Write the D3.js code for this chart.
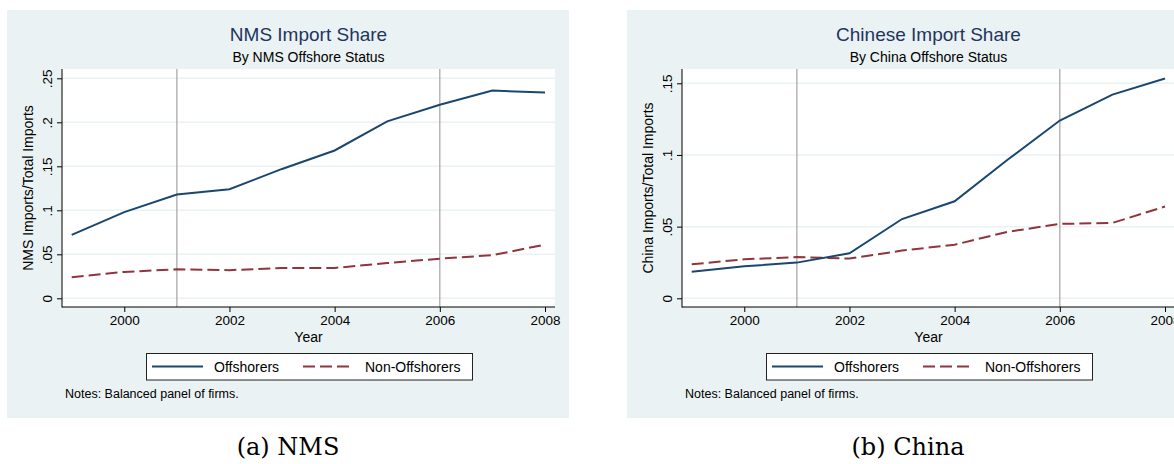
<!DOCTYPE html>
<html>
<head>
<meta charset="utf-8">
<script src="https://cdn.jsdelivr.net/npm/d3@7/dist/d3.min.js"></script>
<style>
  html, body { margin: 0; padding: 0; background: #ffffff; }
  svg { display: block; }
  text { font-family: "Liberation Sans", Arial, Helvetica, sans-serif; }
</style>
</head>
<body>
<svg id="chart" width="1174" height="464"></svg>
<script>
// ---------------- DATA ----------------
const years = [1999, 2000, 2001, 2002, 2003, 2004, 2005, 2006, 2007, 2008];

const nmsOffshorers    = [0.072, 0.098, 0.118, 0.124, 0.147, 0.168, 0.201, 0.220, 0.236, 0.234];
const nmsNonOffshorers = [0.024, 0.030, 0.033, 0.032, 0.0345, 0.0345, 0.040, 0.045, 0.049, 0.061];

const chinaOffshorers    = [0.0186, 0.0223, 0.0249, 0.0314, 0.0553, 0.0677, 0.0965, 0.124, 0.1421, 0.1533];
const chinaNonOffshorers = [0.0237, 0.0272, 0.0288, 0.0277, 0.0333, 0.0374, 0.0463, 0.0519, 0.0526, 0.064];

const xTickValues = [2000, 2002, 2004, 2006, 2008];
const xTickLabels = ["2000", "2002", "2004", "2006", "2008"];
const refLineYears = [2001, 2006];

const nmsYTickValues = [0, 0.05, 0.1, 0.15, 0.2, 0.25];
const nmsYTickLabels = ["0", ".05", ".1", ".15", ".2", ".25"];
const chinaYTickValues = [0, 0.05, 0.1, 0.15];
const chinaYTickLabels = ["0", ".05", ".1", ".15"];

const seriesNames = ["Offshorers", "Non-Offshorers"];

const panels = [
  {
    title: "NMS Import Share",
    subtitle: "By NMS Offshore Status",
    yTitle: "NMS Imports/Total Imports",
    caption: "(a) NMS",
    note: "Notes: Balanced panel of firms.",
    offshorers: nmsOffshorers,
    nonOffshorers: nmsNonOffshorers,
    yMax: 0.25,
    yTicks: nmsYTickValues,
    yLabels: nmsYTickLabels
  },
  {
    title: "Chinese Import Share",
    subtitle: "By China Offshore Status",
    yTitle: "China Imports/Total Imports",
    caption: "(b) China",
    note: "Notes: Balanced panel of firms.",
    offshorers: chinaOffshorers,
    nonOffshorers: chinaNonOffshorers,
    yMax: 0.15,
    yTicks: chinaYTickValues,
    yLabels: chinaYTickLabels
  }
];

// ---------------- STYLE ----------------
const BG = "#eaf2f3";
const GRID = "#eaf2f3";
const NAVY = "#1a476f";
const MAROON = "#90353b";
const TITLE_COLOR = "#1f3560";

const svg = d3.select("#chart");

function drawPanel(p, ox) {
  const g = svg.append("g").attr("transform", `translate(${ox},0)`);

  // outer background
  g.append("rect").attr("x", 7).attr("y", 10).attr("width", 562).attr("height", 408).attr("fill", BG);

  const plot = { left: 62, right: 555, top: 69, bottom: 307 };
  g.append("rect").attr("x", plot.left).attr("y", plot.top)
    .attr("width", plot.right - plot.left).attr("height", plot.bottom - plot.top).attr("fill", "#ffffff");

  const x = d3.scaleLinear().domain([1999, 2008]).range([71.7, 545]);
  const y = d3.scaleLinear().domain([0, p.yMax]).range([298.3, p.yMax === 0.25 ? 78.3 : 83.3]);

  // gridlines
  g.append("g").selectAll("line").data(p.yTicks).join("line")
    .attr("x1", plot.left).attr("x2", plot.right)
    .attr("y1", d => y(d)).attr("y2", d => y(d))
    .attr("stroke", GRID).attr("stroke-width", 1.5);

  // reference lines
  g.append("g").selectAll("line").data(refLineYears).join("line")
    .attr("x1", d => x(d)).attr("x2", d => x(d))
    .attr("y1", plot.top).attr("y2", plot.bottom)
    .attr("stroke", "#a3a3a3").attr("stroke-width", 1.2);

  // lines
  const line = d3.line().x((d, i) => x(years[i])).y(d => y(d));
  g.append("path").datum(p.nonOffshorers).attr("d", line)
    .attr("fill", "none").attr("stroke", MAROON).attr("stroke-width", 2)
    .attr("stroke-dasharray", "12,5");
  g.append("path").datum(p.offshorers).attr("d", line)
    .attr("fill", "none").attr("stroke", NAVY).attr("stroke-width", 2);

  // y axis
  const yAxis = d3.axisLeft(y).tickValues(p.yTicks)
    .tickFormat((d, i) => p.yLabels[i]).tickSize(5).tickPadding(0);
  const ya = g.append("g").attr("transform", `translate(${plot.left},0)`).call(yAxis);
  ya.select(".domain").remove();
  ya.selectAll(".tick line").attr("stroke", "#000").attr("stroke-width", 1);
  ya.selectAll(".tick text")
    .attr("x", null).attr("dy", null)
    .attr("transform", "translate(-10,0) rotate(-90)")
    .attr("text-anchor", "middle")
    .attr("fill", "#000")
    .style("font-size", "13.5px")
    .style("font-family", '"Liberation Sans", Arial, sans-serif');
  g.append("line").attr("x1", plot.left).attr("x2", plot.left)
    .attr("y1", plot.top).attr("y2", plot.bottom + 0.5).attr("stroke", "#000").attr("stroke-width", 1);

  // x axis
  const xAxis = d3.axisBottom(x).tickValues(xTickValues)
    .tickFormat((d, i) => xTickLabels[i]).tickSize(5).tickPadding(3);
  const xa = g.append("g").attr("transform", `translate(0,${plot.bottom})`).call(xAxis);
  xa.select(".domain").remove();
  xa.selectAll(".tick line").attr("stroke", "#000").attr("stroke-width", 1);
  xa.selectAll(".tick text").attr("fill", "#000")
    .style("font-size", "13.5px")
    .style("font-family", '"Liberation Sans", Arial, sans-serif');
  g.append("line").attr("x1", plot.left).attr("x2", plot.right)
    .attr("y1", plot.bottom).attr("y2", plot.bottom).attr("stroke", "#000").attr("stroke-width", 1);

  // titles
  const cx = (plot.left + plot.right) / 2;
  g.append("text").attr("x", cx).attr("y", 41).attr("text-anchor", "middle")
    .attr("fill", TITLE_COLOR).style("font-size", "19px").text(p.title);
  g.append("text").attr("x", cx).attr("y", 62).attr("text-anchor", "middle")
    .attr("fill", "#000").style("font-size", "14px").text(p.subtitle);

  // axis titles
  g.append("text").attr("x", cx).attr("y", 342).attr("text-anchor", "middle")
    .attr("fill", "#000").style("font-size", "14px").text("Year");
  g.append("text").attr("transform", `translate(33,${(plot.top + plot.bottom) / 2}) rotate(-90)`)
    .attr("text-anchor", "middle").attr("fill", "#000").style("font-size", "14px").text(p.yTitle);

  // legend
  const lg = g.append("g");
  lg.append("rect").attr("x", 146.5).attr("y", 353.5).attr("width", 326).attr("height", 26.5)
    .attr("fill", "#fff").attr("stroke", "#222").attr("stroke-width", 1);
  const ly = 366.5;
  lg.append("line").attr("x1", 152).attr("x2", 203).attr("y1", ly).attr("y2", ly)
    .attr("stroke", NAVY).attr("stroke-width", 2);
  lg.append("text").attr("x", 214).attr("y", ly + 5).attr("fill", "#000")
    .style("font-size", "14px").text(seriesNames[0]);
  lg.append("line").attr("x1", 303).attr("x2", 352).attr("y1", ly).attr("y2", ly)
    .attr("stroke", MAROON).attr("stroke-width", 2).attr("stroke-dasharray", "12,5");
  lg.append("text").attr("x", 365).attr("y", ly + 5).attr("fill", "#000")
    .style("font-size", "14px").text(seriesNames[1]);

  // note
  g.append("text").attr("x", 65).attr("y", 397.5).attr("fill", "#000")
    .style("font-size", "12.5px").text(p.note);

  // caption
  g.append("text").attr("x", 288).attr("y", 455).attr("text-anchor", "middle")
    .attr("fill", "#000")
    .style("font-family", '"DejaVu Serif", "Liberation Serif", serif')
    .style("font-size", "24px").text(p.caption);
}

drawPanel(panels[0], 0);
drawPanel(panels[1], 620);
</script>
</body>
</html>
